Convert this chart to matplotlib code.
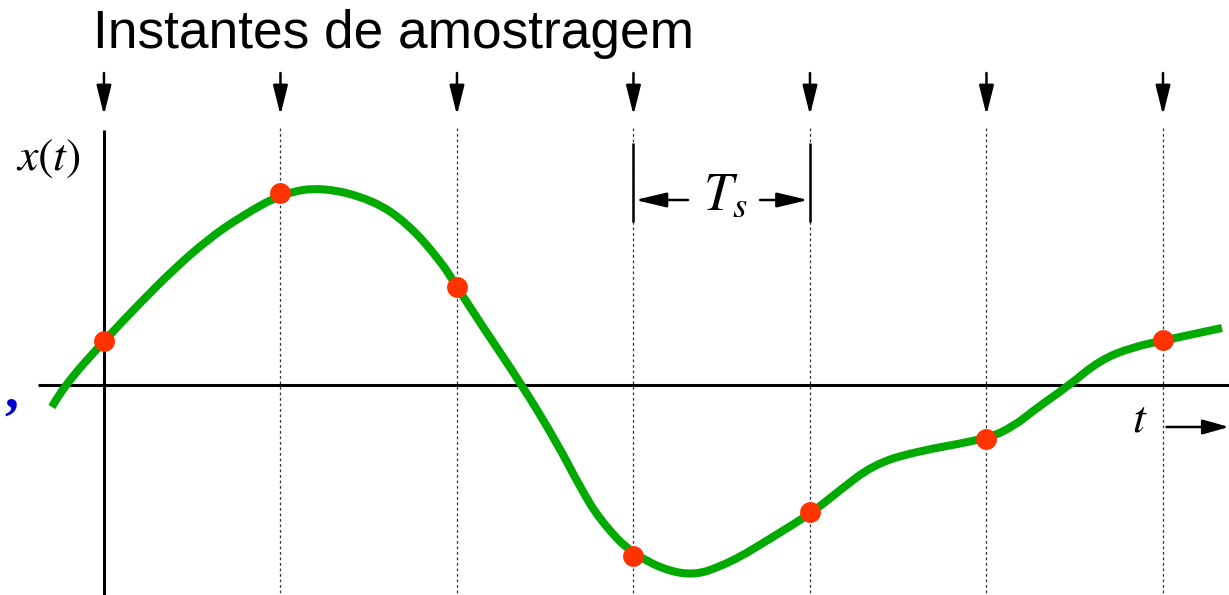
import numpy as np
import matplotlib
matplotlib.use("Agg")
import matplotlib.pyplot as plt
from matplotlib.path import Path
from matplotlib.patches import PathPatch

plt.rcParams['mathtext.fontset'] = 'stix'

# ---- data (time in units of Ts, amplitude in arbitrary units) ----
sample_t = [0, 1, 2, 3, 4, 5, 6]
sample_x = [0.44, 1.92, 0.98, -1.71, -1.27, -0.54, 0.45]

curve_t = [-0.295, -0.232, 0.0, 0.204, 0.391, 0.584, 0.771, 1.014, 1.241, 1.524,
           1.717, 1.904, 2.0, 2.147, 2.368, 2.567, 2.697, 2.810, 3.0, 3.303,
           3.547, 3.790, 4.017, 4.170, 4.357, 4.584, 4.997, 5.150, 5.292, 5.456,
           5.643, 5.830, 6.017, 6.334]
curve_x = [-0.22, -0.02, 0.44, 0.82, 1.15, 1.45, 1.68, 1.92, 1.98, 1.85,
           1.62, 1.25, 0.98, 0.58, 0.0, -0.58, -1.02, -1.35, -1.71, -1.93,
           -1.78, -1.52, -1.27, -1.05, -0.80, -0.67, -0.54, -0.42, -0.22, -0.02,
           0.25, 0.38, 0.45, 0.57]

title = "Instantes de amostragem"
ylabel = r"$x(t)$"
xlabel = r"$t$"
period_label = r"$T_s$"

# ---- figure ----
fig = plt.figure(figsize=(12.29, 5.95), dpi=100)
ax = fig.add_axes([0, 0, 1, 1])
ax.set_xlim(-0.589, 6.374)
ax.set_ylim(-2.10, 3.85)
ax.axis('off')

black = 'black'
green = '#00AA00'
red = '#FF3300'

# dotted guide lines under each sampling instant
for t in sample_t[1:]:
    ax.plot([t, t], [2.57, -2.10], ls=(0, (2.2, 2.2)), lw=0.9, color='#333333', zorder=1)

# axes
ax.plot([-0.374, 6.374], [0, 0], color=black, lw=2.2, zorder=2, solid_capstyle='butt')
ax.plot([0, 0], [2.55, -2.10], color=black, lw=2.2, zorder=2, solid_capstyle='butt')

# sampling arrows at top
for t in sample_t:
    ax.annotate('', xy=(t, 2.70), xytext=(t, 3.12),
                arrowprops=dict(arrowstyle='-|>,head_length=1.8,head_width=0.45',
                                lw=1.8, color=black, shrinkA=0, shrinkB=0,
                                mutation_scale=10), zorder=3)

# Ts bracket
for t in (3, 4):
    ax.plot([t, t], [2.42, 1.63], color=black, lw=1.8, zorder=3, solid_capstyle='butt')
ax.annotate('', xy=(3.01, 1.85), xytext=(3.309, 1.85),
            arrowprops=dict(arrowstyle='-|>,head_length=1.9,head_width=0.45',
                            lw=1.8, color=black, shrinkA=0, shrinkB=0, mutation_scale=10))
ax.annotate('', xy=(3.99, 1.85), xytext=(3.717, 1.85),
            arrowprops=dict(arrowstyle='-|>,head_length=1.9,head_width=0.45',
                            lw=1.8, color=black, shrinkA=0, shrinkB=0, mutation_scale=10))
ax.text(3.52, 1.75, period_label, fontsize=38, ha='center', va='baseline', color=black)

# t arrow
ax.annotate('', xy=(6.374, -0.42), xytext=(6.020, -0.42),
            arrowprops=dict(arrowstyle='-|>,head_length=1.6,head_width=0.45',
                            lw=1.8, color=black, shrinkA=0, shrinkB=0, mutation_scale=10))
ax.text(5.87, -0.47, xlabel, fontsize=33, ha='center', va='baseline', color=black)

# x(t) label
ax.text(-0.315, 2.15, ylabel, fontsize=33, ha='center', va='baseline', color=black)

# title
ax.text(-0.062, 3.37, title, fontsize=38.3, ha='left', va='baseline',
        family='Liberation Sans', color=black)

# stray blue comma at left edge
ax.text(-0.525, -0.22, ',', fontsize=40, ha='center', va='baseline',
        family='Liberation Serif', fontweight='bold', color='#0000CC')

# smooth curve: quadratic Bezier through the read points
pts = np.column_stack([curve_t, curve_x])
verts = [pts[0]]
codes = [Path.MOVETO]
for i in range(1, len(pts) - 1):
    mid = (pts[i] + pts[i + 1]) / 2
    if i == len(pts) - 2:
        mid = pts[i + 1]
    verts += [pts[i], mid]
    codes += [Path.CURVE3, Path.CURVE3]
path = Path(verts, codes)
ax.add_patch(PathPatch(path, fill=False, edgecolor=green, lw=5.8,
                       capstyle='butt', joinstyle='round', zorder=4))

# samples
ax.plot(sample_t, sample_x, 'o', color=red, markersize=15, markeredgewidth=0, zorder=5)

fig.savefig('out.png', dpi=100)
